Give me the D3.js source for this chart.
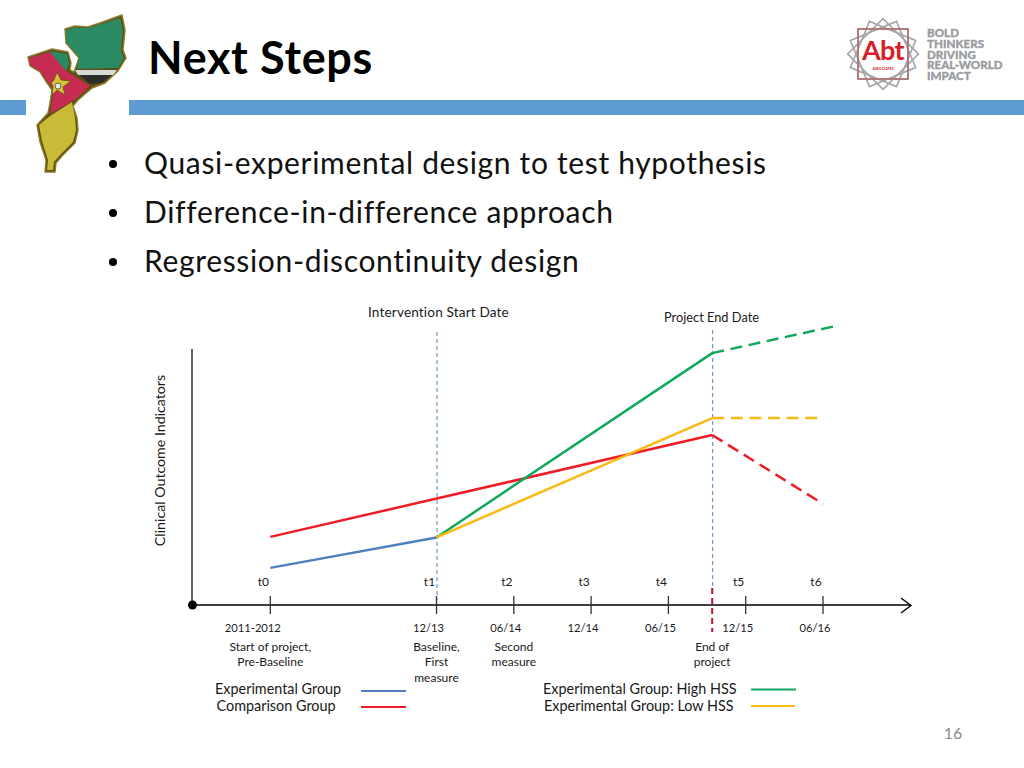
<!DOCTYPE html>
<html><head><meta charset="utf-8">
<script src="https://cdnjs.cloudflare.com/ajax/libs/d3/7.8.5/d3.min.js"></script>
<style>html,body{margin:0;padding:0;background:#fff}svg{display:block}text{font-family:Lato,"Open Sans",sans-serif;font-variant-ligatures:none}</style>
</head><body><svg id="c" width="1024" height="768"></svg>
<script>
const title = "Next Steps";
const bullets = ["Quasi-experimental design to test hypothesis","Difference-in-difference approach","Regression-discontinuity design"];
const tickMonths = [-12.9,0,6,12,18,24,30];
const tickNames = ["t0","t1","t2","t3","t4","t5","t6"];
const tickDates = ["2011-2012","12/13","06/14","12/14","06/15","12/15","06/16"];
const startMonth = 0, endMonth = 21.4;
const experimental = [[-12.9,14.5],[0,26.4]];
const comparison = [[-12.9,26.6],[21.4,66.4]];
const comparisonProjected = [[21.4,66.4],[30,39.5]];
const highHSS = [[0,26.4],[21.4,98.4]];
const highHSSProjected = [[21.4,98.4],[31,109]];
const lowHSS = [[0,26.4],[21.4,73]];
const lowHSSProjected = [[21.4,73],[30,73]];
const descriptions = [[-12.9,["Start of project,","Pre-Baseline"]],[0,["Baseline,","First","measure"]],[6,["Second","measure"]],[21.4,["End of","project"]]];

const BLUE="#4f81bd",RED="#ee1c25",GREEN="#12a85c",YELLOW="#fdb913",INK="#1a1a1a";
const svg=d3.select("#c");
const x=d3.scaleLinear().domain([0,30]).range([436.5,823]);
const y=d3.scaleLinear().domain([0,100]).range([605,349]);
const line=d3.line().x(d=>x(d[0])).y(d=>y(d[1]));

// header bars
svg.append("rect").attr("x",0).attr("y",100).attr("width",26).attr("height",15).attr("fill","#5f9bd3");
svg.append("rect").attr("x",129).attr("y",100).attr("width",895).attr("height",15).attr("fill","#5f9bd3");

// Mozambique emblem
const map=svg.append("g").attr("stroke-linejoin","round");
map.append("path").attr("d","M65 29 L75 26 L88 27 L100 23 L122 15 L125 30 L123 50 L126 58 L118 71 L105 83 L92 88 L78 100 L73 106 L77 118 L78 130 L75 143 L62 156 L56 163 L55 172 L45 172 L46 160 L40 142 L37 125 L48 113 L50 103 L52 90 L45 80 L40 72 L30 66 L28 57 L52 49 L68 52 L71 63 L70 70 L74 72 L79 58 L66 43Z").attr("fill","#5d4f14").attr("stroke","#8a7a2a").attr("stroke-width",1.4);
map.append("path").attr("d","M66 30 L75 27.5 L88 28 L100 24.5 L120 18 L123 30 L121 50 L124 58 L118 68 L77 69 L79 57 L66 42Z").attr("fill","#2a8a63");
map.append("path").attr("d","M50 51 L67 54 L69 64 L66 71 L56 63Z").attr("fill","#2a8a63");
map.append("path").attr("d","M75 70 L117 70 L113 75 L78 75Z").attr("fill","#d9dcd5");
map.append("path").attr("d","M79 75 L112 75 L102 83 L90 84Z").attr("fill","#2d2d2d");
map.append("path").attr("d","M29 58 L50 52 L66 71 L90 86 L76 99 L50 114 L52 102 L54 90 L46 79 L40 71 L30 65Z").attr("fill","#c62b52");
map.append("path").attr("d","M57 72 L61 80 L71 81 L63 87 L65 95 L57 90 L52 95 L53 86 L51 83 L54 80Z").attr("fill","#d9c233").attr("stroke","#4d4a1c").attr("stroke-width",.7);
map.append("circle").attr("cx",58).attr("cy",86).attr("r",3).attr("fill","#e6e6e6").attr("stroke","#333").attr("stroke-width",.7);
map.append("path").attr("d","M39 125 L50 116 L72 102 L75 118 L76 130 L73 142 L61 154 L54 162 L53 170 L47 170 L48 160 L42 141Z").attr("fill","#c8bb38");

// Abt logo
const logo=svg.append("g").attr("transform","translate(883,54)");
[0,22.5,45,67.5].forEach(r=>{
  logo.append("rect").attr("x",-25).attr("y",-25).attr("width",50).attr("height",50).attr("fill","none").attr("stroke","#a3a5a8").attr("stroke-width",1.6).attr("transform",`rotate(${r})`);
});
logo.append("rect").attr("x",-25).attr("y",-25).attr("width",50).attr("height",50).attr("fill","none").attr("stroke","#b0605c").attr("stroke-width",1.3);
logo.append("circle").attr("r",22.5).attr("fill","#fff");
logo.append("text").attr("text-anchor","middle").attr("y",6).attr("font-size",27).attr("font-weight",700).attr("letter-spacing",-.6).attr("fill","#d5202a").text("Abt");
logo.append("text").attr("text-anchor","middle").attr("y",16).attr("font-size",3.6).attr("font-weight",700).attr("fill","#d5202a").text("ASSOCIATES");
const tag=["BOLD","THINKERS","DRIVING","REAL-WORLD","IMPACT"];
svg.append("g").selectAll("text").data(tag).join("text").attr("x",927).attr("y",(d,i)=>37+i*10.8).attr("font-size",11.6).attr("font-weight",900).attr("fill","#9a9c9f").attr("stroke","#9a9c9f").attr("stroke-width",.3).text(d=>d);

// title & bullets
svg.append("text").attr("x",148).attr("y",74).attr("font-size",45).attr("font-weight",700).attr("letter-spacing",.65).attr("fill","#000").text(title);
const bl=svg.append("g").selectAll("g").data(bullets).join("g").attr("transform",(d,i)=>`translate(0,${174+i*49})`);
bl.append("circle").attr("cx",113).attr("cy",-10).attr("r",4).attr("fill","#000");
bl.append("text").attr("x",144).attr("font-size",30).attr("letter-spacing",.66).attr("fill","#111").text(d=>d);

// guides
[[startMonth,332,600],[endMonth,330,590]].forEach(g=>svg.append("line").attr("x1",x(g[0])+.5).attr("x2",x(g[0])+.5).attr("y1",g[1]).attr("y2",g[2]).attr("stroke",BLUE).attr("stroke-width",1).attr("stroke-dasharray","4 3"));

// axes
svg.append("line").attr("x1",192).attr("x2",192).attr("y1",y(100)).attr("y2",y(0)).attr("stroke","#000").attr("stroke-width",1.2);
svg.append("line").attr("x1",192).attr("x2",910).attr("y1",y(0)).attr("y2",y(0)).attr("stroke","#000").attr("stroke-width",1.5);
svg.append("path").attr("d","M901 598 L911 605.5 L901 613").attr("fill","none").attr("stroke","#000").attr("stroke-width",1.4);
svg.append("circle").attr("cx",192.5).attr("cy",605).attr("r",4.5).attr("fill","#000");
svg.selectAll(".tk").data(tickMonths).join("line").attr("class","tk").attr("x1",d=>x(d)).attr("x2",d=>x(d)).attr("y1",596).attr("y2",614).attr("stroke","#333").attr("stroke-width",1.3);
svg.append("line").attr("x1",x(endMonth)).attr("x2",x(endMonth)).attr("y1",588).attr("y2",632).attr("stroke","#c8102e").attr("stroke-width",2).attr("stroke-dasharray","6 4");

// series
[[experimental,BLUE,0],[comparison,RED,0],[highHSS,GREEN,0],[lowHSS,YELLOW,0],[comparisonProjected,RED,1],[highHSSProjected,GREEN,1],[lowHSSProjected,YELLOW,1]].forEach(s=>{
  svg.append("path").attr("d",line(s[0])).attr("fill","none").attr("stroke",s[1]).attr("stroke-width",2.5).attr("stroke-dasharray",s[2]?"12 6.6":null);
});

// tick text
svg.selectAll(".tn").data(tickNames).join("text").attr("class","tn").attr("text-anchor","middle").attr("x",(d,i)=>x(tickMonths[i])-7).attr("y",586).attr("font-size",12).attr("fill",INK).text(d=>d);
svg.selectAll(".td").data(tickDates).join("text").attr("class","td").attr("text-anchor","middle").attr("x",(d,i)=>x(tickMonths[i])-(i==0?17.5:8)).attr("y",632).attr("font-size",11.2).attr("fill",INK).text(d=>d);
descriptions.forEach(d=>{
  d[1].forEach((t,i)=>svg.append("text").attr("text-anchor","middle").attr("x",x(d[0])).attr("y",651+i*15.3).attr("font-size",12).attr("fill",INK).text(t));
});
svg.append("text").attr("x",368).attr("y",317).attr("font-size",13.6).attr("letter-spacing",.15).attr("fill",INK).text("Intervention Start Date");
svg.append("text").attr("x",664).attr("y",322).attr("font-size",12.8).attr("fill",INK).text("Project End Date");
svg.append("text").attr("transform","translate(165,460.5) rotate(-90)").attr("text-anchor","middle").attr("font-size",14.2).attr("fill",INK).text("Clinical Outcome Indicators");

// legend
const legend=[["Experimental Group",215,694,361,406,691,BLUE],["Comparison Group",216.5,711,361,406,707,RED],["Experimental Group: High HSS",543,693.5,751,796,689.5,GREEN],["Experimental Group: Low HSS",544,710.5,751,795,706,YELLOW]];
legend.forEach(l=>{
  svg.append("text").attr("x",l[1]).attr("y",l[2]).attr("font-size",14.4).attr("fill",INK).text(l[0]);
  svg.append("line").attr("x1",l[3]).attr("x2",l[4]).attr("y1",l[5]).attr("y2",l[5]).attr("stroke",l[6]).attr("stroke-width",2);
});
svg.append("text").attr("x",953).attr("y",739).attr("text-anchor","middle").attr("font-size",16).attr("fill","#8a8a8a").text("16");
</script></body></html>
